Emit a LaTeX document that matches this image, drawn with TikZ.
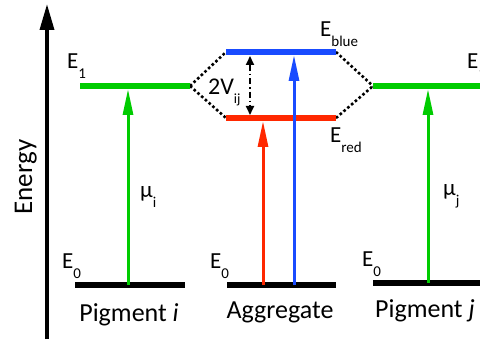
\documentclass[tikz,border=0pt]{standalone}
\usepackage{fontspec}
\setmainfont{Carlito}
\usetikzlibrary{arrows.meta}
\definecolor{lvgreen}{RGB}{0,204,0}
\definecolor{lvblue}{RGB}{25,75,255}
\definecolor{lvred}{RGB}{255,40,0}
\newcommand{\sublbl}[2]{#1\raisebox{-0.4em}{\fontsize{15}{15}\selectfont #2}}
\tikzset{
  lvline/.style={line width=6pt},
  groundline/.style={line width=6.5pt, black},
  transarrow/.style={line width=3pt, -{Triangle[length=26pt,width=10pt]}},
  coupling/.style={line width=2.6pt, dash pattern=on 2.6pt off 2.4pt},
  splitarrow/.style={line width=1.8pt, dash pattern=on 6pt off 3pt on 1.5pt off 3pt,
     {Triangle[length=9pt,width=8pt]}-{Triangle[length=9pt,width=8pt]}},
  lbl/.style={inner sep=0pt, anchor=base west, font=\fontsize{23}{23}\selectfont},
  bottomlbl/.style={inner sep=0pt, anchor=base, font=\fontsize{26}{26}\selectfont}
}
\begin{document}
\begin{tikzpicture}[x=1pt,y=-1pt]
\useasboundingbox (0,0) rectangle (480,342);
% energy axis
\coordinate (ax0) at (47,339);
\coordinate (ax1) at (47,4);
\draw[line width=3.5pt, -{Triangle[length=26pt,width=14pt]}] (ax0) -- (ax1);
\node[inner sep=0pt, anchor=base, rotate=90, font=\fontsize{27}{27}\selectfont] (energy) at (32,177) {Energy};
% level coordinates
\coordinate (e1La) at (80,86);  \coordinate (e1Lb) at (190,86);
\coordinate (ebA) at (226,52);  \coordinate (ebB) at (336,52);
\coordinate (erA) at (226,118); \coordinate (erB) at (336,118);
\coordinate (e1Ra) at (373,86); \coordinate (e1Rb) at (484,86);
\coordinate (g1a) at (75,285);  \coordinate (g1b) at (185,285);
\coordinate (g2a) at (227,285); \coordinate (g2b) at (336,285);
\coordinate (g3a) at (373,283); \coordinate (g3b) at (484,283);
% coupling dotted lines
\draw[coupling] (e1Lb) -- (ebA);
\draw[coupling] (e1Lb) -- (erA);
\draw[coupling] (ebB) -- (e1Ra);
\draw[coupling] (erB) -- (e1Ra);
% levels
\draw[lvline, lvgreen] (e1La) -- (e1Lb);
\draw[lvline, lvgreen] (e1Ra) -- (e1Rb);
\draw[lvline, lvblue] (ebA) -- (ebB);
\draw[lvline, lvred] (erA) -- (erB);
\draw[groundline] (g1a) -- (g1b);
\draw[groundline] (g2a) -- (g2b);
\draw[groundline] (g3a) -- (g3b);
% transitions
\coordinate (t1a) at (128,285); \coordinate (t1b) at (128,89);
\coordinate (t2a) at (263,285); \coordinate (t2b) at (263,121);
\coordinate (t3a) at (294,285); \coordinate (t3b) at (294,55);
\coordinate (t4a) at (428,283); \coordinate (t4b) at (428,89);
\draw[transarrow, lvgreen] (t1a) -- (t1b);
\draw[transarrow, lvred] (t2a) -- (t2b);
\draw[transarrow, lvblue] (t3a) -- (t3b);
\draw[transarrow, lvgreen] (t4a) -- (t4b);
% splitting arrow
\coordinate (s1) at (250,56);
\coordinate (s2) at (250,115);
\draw[splitarrow] (s1) -- (s2);
% labels
\node[lbl] (lE1L) at (67,69) {\sublbl{E}{1}};
\node[lbl] (lE1R) at (467,69) {\sublbl{E}{1}};
\node[lbl] (lEb) at (320,37) {\sublbl{E}{blue}};
\node[lbl] (lEr) at (330,143) {\sublbl{E}{red}};
\node[lbl] (lE0a) at (62,269) {\sublbl{E}{0}};
\node[lbl] (lE0b) at (210,269) {\sublbl{E}{0}};
\node[lbl] (lE0c) at (362,267) {\sublbl{E}{0}};
\node[lbl] (lmui) at (140,198) {\sublbl{μ}{i}};
\node[lbl] (lmuj) at (443,196) {\sublbl{μ}{j}};
\node[lbl, font=\fontsize{24}{24}\selectfont] (l2v) at (208,95) {2V\raisebox{-0.35em}{\fontsize{14}{14}\selectfont ij}};
\node[bottomlbl] (pi) at (129,322) {Pigment \textit{i}};
\node[bottomlbl] (agg) at (280,319) {Aggregate};
\node[bottomlbl] (pj) at (425,318) {Pigment \textit{j}};
\end{tikzpicture}
\end{document}
